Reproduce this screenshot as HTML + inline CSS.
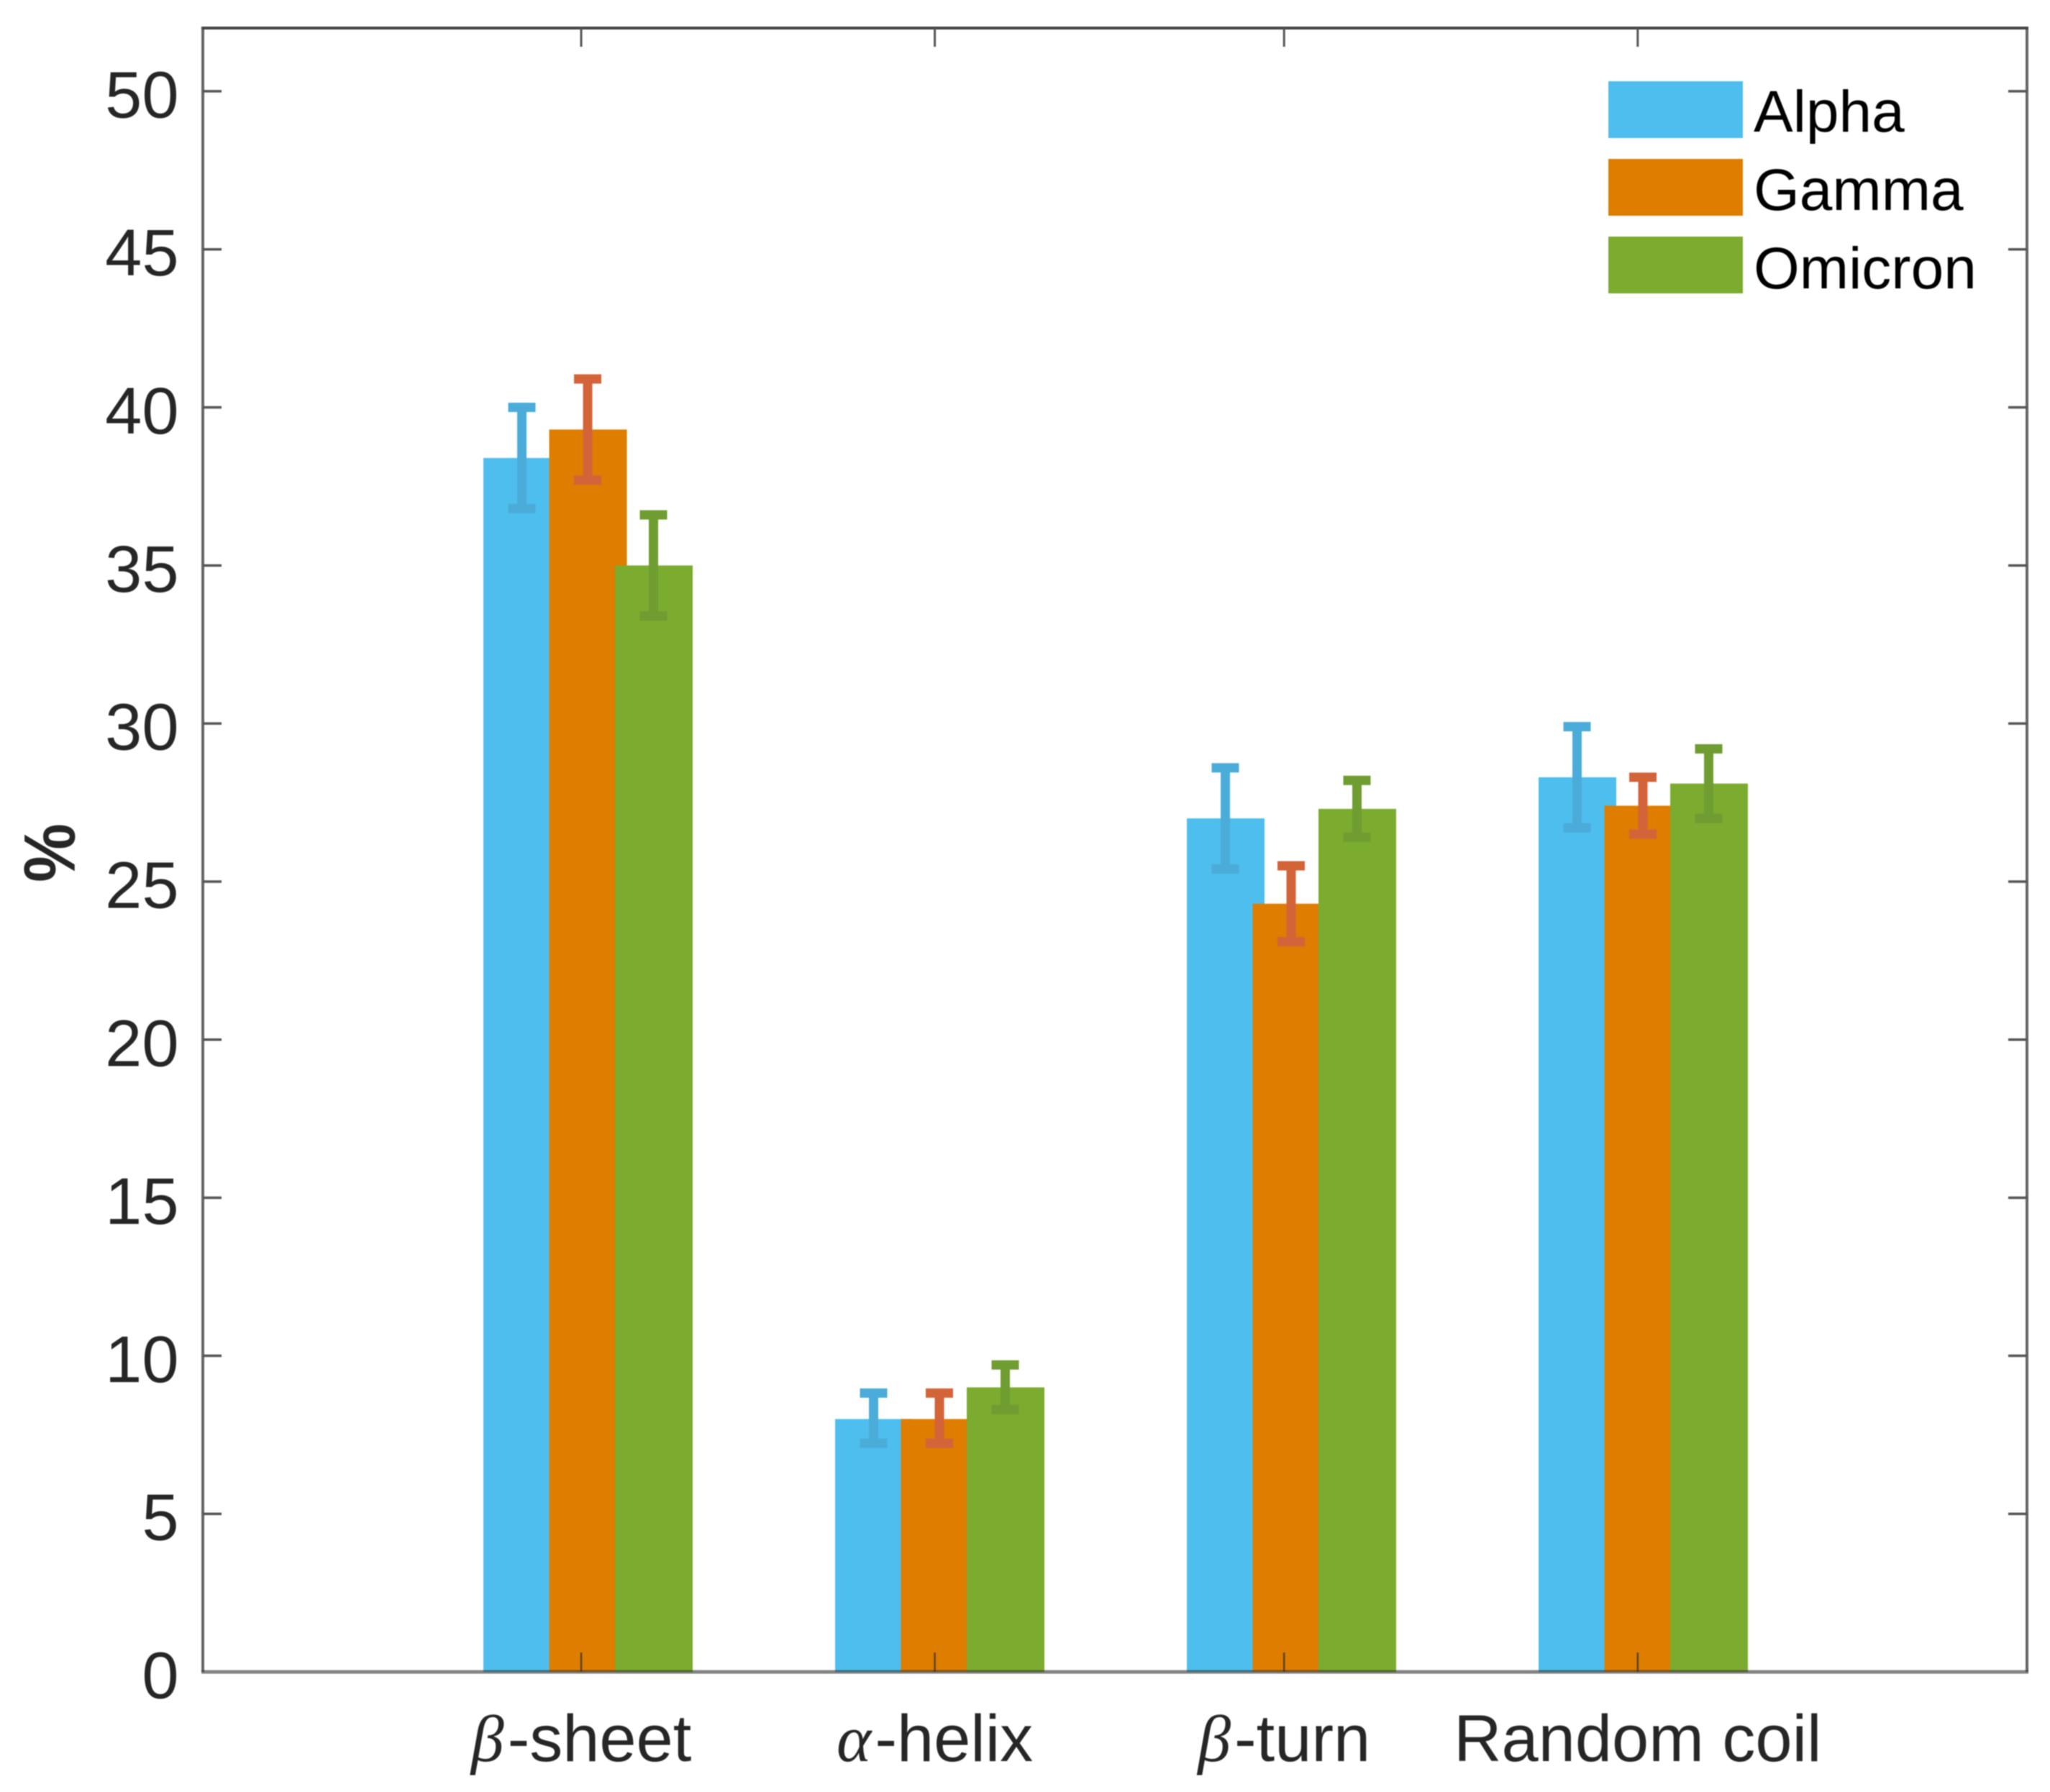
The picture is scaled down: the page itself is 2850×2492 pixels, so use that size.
<!DOCTYPE html>
<html lang="en">
<head>
<meta charset="utf-8">
<title>Secondary structure percentages</title>
<style>
  html, body { margin: 0; padding: 0; background: #ffffff; width: 2850px; height: 2492px; overflow: hidden; }
  #chart { display: block; filter: blur(0.8px); }
  text { font-family: "Liberation Sans", sans-serif; }
  .greek { font-family: "Liberation Serif", serif; font-style: italic; letter-spacing: 5px; }
</style>
</head>
<body>
<svg id="chart" xmlns="http://www.w3.org/2000/svg" width="2850" height="2492" viewBox="0 0 2850 2492"></svg>
<script>
const categoryGreek = ['β', 'α', 'β', ''];
const categoryText = ['-sheet', '-helix', '-turn', 'Random coil'];
const seriesNames = ['Alpha', 'Gamma', 'Omicron'];
const alphaValues = [38.4, 8.0, 27.0, 28.3];
const gammaValues = [39.3, 8.0, 24.3, 27.4];
const omicronValues = [35.0, 9.0, 27.3, 28.1];
const alphaErrHigh = [40.0, 8.82, 28.6, 29.9];
const alphaErrLow = [36.8, 7.23, 25.4, 26.7];
const gammaErrHigh = [40.9, 8.82, 25.5, 28.3];
const gammaErrLow = [37.7, 7.23, 23.1, 26.5];
const omicronErrHigh = [36.6, 9.71, 28.2, 29.2];
const omicronErrLow = [33.4, 8.3, 26.4, 27.0];
const yTickValues = [0, 5, 10, 15, 20, 25, 30, 35, 40, 45, 50];

const svg = document.getElementById('chart');
const NS = 'http://www.w3.org/2000/svg';
const plot = { left: 282, right: 2818, top: 39, bottom: 2325 };
const yMax = 52;
const fillColors = ['#4DBEEE', '#DE7D00', '#7BAB2F'];
const errColors = ['#4BACD9', '#D3643A', '#6F9D31'];
const slugs = ['alpha', 'gamma', 'omicron'];
const seriesValues = [alphaValues, gammaValues, omicronValues];
const seriesHigh = [alphaErrHigh, gammaErrHigh, omicronErrHigh];
const seriesLow = [alphaErrLow, gammaErrLow, omicronErrLow];

function yScale(v) { return plot.bottom - (plot.bottom - plot.top) * v / yMax; }
function groupX(i) { return 817.5 + 489 * i; }
function barCenter(i, s) { return groupX(i) + (s - 1) * 91.5; }
function tickX(i) { return 808 + 489.6 * i + (i === 1 ? 2 : i === 2 ? -2 : 0); }
function make(tag, attrs, parent) {
  const el = document.createElementNS(NS, tag);
  for (const k in attrs) el.setAttribute(k, attrs[k]);
  (parent || svg).appendChild(el);
  return el;
}

const barWidth = 108;
for (let s = 0; s < seriesValues.length; s++) {
  for (let i = 0; i < categoryText.length; i++) {
    const top = yScale(seriesValues[s][i]);
    const bar = make('rect', { x: barCenter(i, s) - barWidth / 2, y: top, width: barWidth, height: plot.bottom - top, fill: fillColors[s] });
    
    
  }
}

for (let s = 0; s < seriesValues.length; s++) {
  for (let i = 0; i < categoryText.length; i++) {
    const cx = barCenter(i, s) - 0.5;
    const hi = yScale(seriesHigh[s][i]);
    const lo = yScale(seriesLow[s][i]);
    const group = make('path', {
      d: 'M' + (cx - 19) + ' ' + hi + 'H' + (cx + 19) + 'M' + cx + ' ' + hi + 'V' + lo + 'M' + (cx - 19) + ' ' + lo + 'H' + (cx + 19),
      stroke: errColors[s], 'stroke-width': 13, fill: 'none'
    });
    
    
  }
}

const frame = make('path', {
  d: 'M' + plot.left + ' ' + plot.top + 'V' + plot.bottom + 'M' + plot.right + ' ' + plot.top + 'V' + plot.bottom,
  stroke: '#666666', 'stroke-width': 4, fill: 'none'
});



const topLine = make('line', { x1: plot.left - 2, x2: plot.right + 2, y1: plot.top, y2: plot.top, stroke: '#444444', 'stroke-width': 4 });



const baseline = make('line', { x1: plot.left - 2, x2: plot.right + 2, y1: plot.bottom, y2: plot.bottom, stroke: '#303030', 'stroke-opacity': 0.6, 'stroke-width': 5 });



for (let t = 0; t < yTickValues.length; t++) {
  const y = yScale(yTickValues[t]);
  if (yTickValues[t] !== 0) {
    const left = make('line', { x1: plot.left, x2: plot.left + 26, y1: y, y2: y, stroke: '#555', 'stroke-width': 3.5 });
    
    
    const right = make('line', { x1: plot.right - 26, x2: plot.right, y1: y, y2: y, stroke: '#555', 'stroke-width': 3.5 });
    
    
  }
  const label = make('text', { x: 248.5, y: y + 36.5, 'text-anchor': 'end', 'font-size': 92, fill: '#262626' });
  label.textContent = yTickValues[t];
  
  
}

for (let i = 0; i < categoryText.length; i++) {
  const x = tickX(i);
  const topTick = make('line', { x1: x, x2: x, y1: plot.top, y2: plot.top + 26, stroke: '#555', 'stroke-width': 3 });
  
  
  const bottomTick = make('line', { x1: x, x2: x, y1: plot.bottom - 27, y2: plot.bottom, stroke: '#303030', 'stroke-opacity': 0.75, 'stroke-width': 2.5 });
  
  
  const label = make('text', { x: x, y: 2449, 'text-anchor': 'middle', 'font-size': 92, fill: '#262626' });
  
  
  if (categoryGreek[i]) {
    const greek = make('tspan', { class: 'greek' }, label);
    greek.textContent = categoryGreek[i];
  }
  const rest = make('tspan', {}, label);
  rest.textContent = categoryText[i];
}

const yTitle = make('text', { transform: 'translate(103.5 1186) rotate(-90) scale(1 1.1)', 'text-anchor': 'middle', 'font-size': 92, 'font-weight': 'bold', fill: '#262626' });
yTitle.textContent = '%';



for (let s = 0; s < seriesNames.length; s++) {
  const top = 113 + s * 108;
  const swatch = make('rect', { x: 2236, y: top, width: 187, height: 79, fill: fillColors[s] });
  
  
  const label = make('text', { x: 2438, y: 183 + s * 109, 'font-size': 82, fill: '#000000' });
  label.textContent = seriesNames[s];
  
  
}
</script>
</body>
</html>
